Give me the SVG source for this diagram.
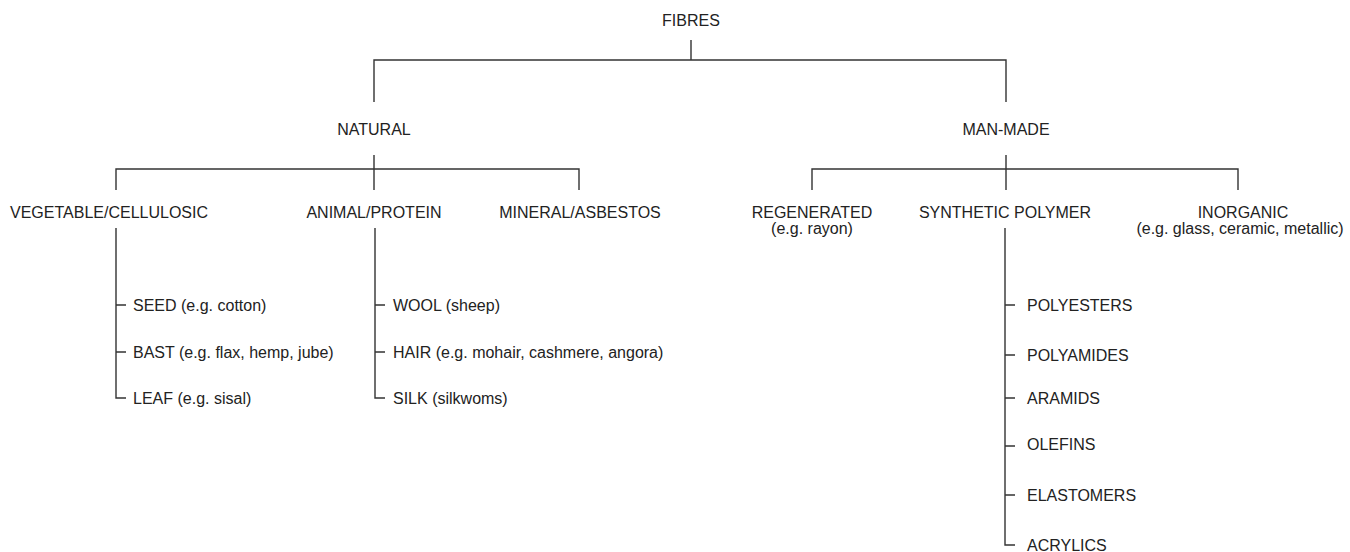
<svg xmlns="http://www.w3.org/2000/svg" width="1350" height="552" viewBox="0 0 1350 552">
  <style>
    text { font-family: "Liberation Sans", Arial, sans-serif; font-size: 16px; fill: #222; }
    .c { text-anchor: middle; }
    .conn path { fill: none; stroke: #333; stroke-width: 1.4; }
  </style>
  <rect width="1350" height="552" fill="#ffffff"/>
  <g class="conn" id="connectors">
    <path d="M691 40 V60 M374 102 V60 H1006 V102"/>
    <path d="M374 155 V190 M116 190 V169 H579 V190"/>
    <path d="M1006 155 V190 M812 190 V169 H1238 V190"/>
    <path d="M116 228 V398 H126 M116 305 H126 M116 352 H126"/>
    <path d="M375 228 V398 H385 M375 305 H385 M375 352 H385"/>
    <path d="M1005 228 V545 H1015 M1005 305 H1015 M1005 355 H1015 M1005 398 H1015 M1005 446 H1015 M1005 495 H1015"/>
  </g>
  <g id="fibres"><text class="c" x="691" y="26">FIBRES</text></g>
  <g id="natural"><text class="c" x="374" y="135">NATURAL</text></g>
  <g id="man-made"><text class="c" x="1006" y="135">MAN-MADE</text></g>
  <g id="vegetable"><text class="c" x="109" y="218">VEGETABLE/CELLULOSIC</text></g>
  <g id="animal"><text class="c" x="374" y="218">ANIMAL/PROTEIN</text></g>
  <g id="mineral"><text class="c" x="580" y="218">MINERAL/ASBESTOS</text></g>
  <g id="regenerated"><text class="c" x="812" y="218">REGENERATED</text><text class="c" x="812" y="234">(e.g. rayon)</text></g>
  <g id="synthetic"><text class="c" x="1005" y="218">SYNTHETIC POLYMER</text></g>
  <g id="inorganic"><text class="c" x="1243" y="218">INORGANIC</text><text class="c" x="1240" y="234">(e.g. glass, ceramic, metallic)</text></g>
  <g id="seed"><text x="133" y="311">SEED (e.g. cotton)</text></g>
  <g id="bast"><text x="133" y="358">BAST (e.g. flax, hemp, jube)</text></g>
  <g id="leaf"><text x="133" y="404">LEAF (e.g. sisal)</text></g>
  <g id="wool"><text x="393" y="311">WOOL (sheep)</text></g>
  <g id="hair"><text x="393" y="358">HAIR (e.g. mohair, cashmere, angora)</text></g>
  <g id="silk"><text x="393" y="404">SILK (silkwoms)</text></g>
  <g id="polyesters"><text x="1027" y="311">POLYESTERS</text></g>
  <g id="polyamides"><text x="1027" y="361">POLYAMIDES</text></g>
  <g id="aramids"><text x="1027" y="404">ARAMIDS</text></g>
  <g id="olefins"><text x="1027" y="450">OLEFINS</text></g>
  <g id="elastomers"><text x="1027" y="501">ELASTOMERS</text></g>
  <g id="acrylics"><text x="1027" y="551">ACRYLICS</text></g>
</svg>
